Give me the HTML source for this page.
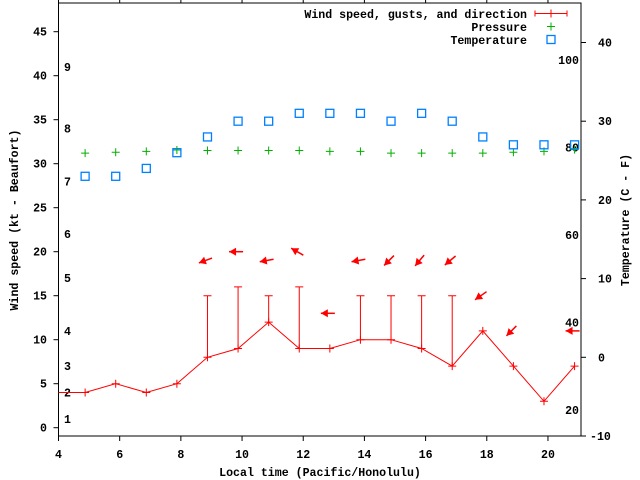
<!DOCTYPE html>
<html><head><meta charset="utf-8"><style>
html,body{margin:0;padding:0;background:#fff;}
svg{display:block;}
text{font-family:"Liberation Mono",monospace;font-weight:bold;font-size:11.6px;fill:#000;}
</style></head><body>
<svg id="chart" width="640" height="480" viewBox="0 0 640 480" xmlns="http://www.w3.org/2000/svg">
<defs><clipPath id="pc"><rect x="58.5" y="3" width="522.5" height="433"/></clipPath></defs>
<g id="axes"></g>
<g id="plot" clip-path="url(#pc)"></g>
<g id="legend"></g>
</svg>
<script>
const hours = [3.87,4.87,5.87,6.87,7.87,8.87,9.87,10.87,11.87,12.87,13.87,14.87,15.87,16.87,17.87,18.87,19.87,20.87];
const windKt = [4,4,5,4,5,8,9,12,9,9,10,10,9,7,11,7,3,7];
const gustKt = [null,null,null,null,null,15,16,15,16,null,15,15,15,15,null,null,null,null];
const windDir = [null,null,null,null,null,70,90,80,120,90,80,45,40,50,55,45,null,90];
const pressure = [null,31.2,31.3,31.4,31.55,31.5,31.5,31.5,31.5,31.4,31.4,31.2,31.2,31.2,31.2,31.3,31.4,31.6];
const tempC = [null,23,23,24,26,28,30,30,31,31,31,30,31,30,28,27,27,27];
const xTicks = [4,6,8,10,12,14,16,18,20];
const yTicks = [0,5,10,15,20,25,30,35,40,45];
const y2Ticks = [-10,0,10,20,30,40];
const beaufort = [1,2,3,4,5,6,7,8,9];
const beaufortKt = [1,4,7,11,17,22,28,34,41];
const fahrenheit = [20,40,60,80,100];

const L=58.5,R=581,T=3,B=436;
const X=v=>L+(v-4)*(R-L)/(21.08-4);
const Y=v=>427.7-v*8.8;
const Y2=v=>357.3-v*7.87;
const NS='http://www.w3.org/2000/svg';
function mk(tag,attrs,parent,txt){const e=document.createElementNS(NS,tag);for(const k in attrs)e.setAttribute(k,attrs[k]);if(txt!==undefined)e.textContent=txt;parent.appendChild(e);return e;}
const ax=document.getElementById('axes'),pl=document.getElementById('plot'),lg=document.getElementById('legend');

let e=mk('rect',{x:L,y:T,width:R-L,height:B-T,fill:'none',stroke:'#000','stroke-width':1},ax);


xTicks.forEach(t=>{
  const x=X(t);
  mk('line',{x1:x,y1:B,x2:x,y2:B+5,stroke:'#000'},ax);
  mk('line',{x1:x,y1:T,x2:x,y2:T-5,stroke:'#000'},ax);
  e=mk('text',{x:x,y:B+22,'text-anchor':'middle'},ax,String(t));
  
  
});
yTicks.forEach(t=>{
  const y=Y(t);
  mk('line',{x1:L-5,y1:y,x2:L,y2:y,stroke:'#000'},ax);
  e=mk('text',{x:47,y:y+4,'text-anchor':'end'},ax,String(t));
  
  
});
y2Ticks.forEach(t=>{
  const y=Y2(t);
  mk('line',{x1:R,y1:y,x2:R+5,y2:y,stroke:'#000'},ax);
  e=mk('text',{x:t<0?590:598,y:y+4,'text-anchor':'start'},ax,String(t));
  
  
});
beaufort.forEach((b,i)=>{
  e=mk('text',{x:64,y:Y(beaufortKt[i])+4},ax,String(b));
  
  
});
fahrenheit.forEach(f=>{
  e=mk('text',{x:579,y:Y2((f-32)*5/9)+4,'text-anchor':'end'},ax,String(f));
  
  
});
e=mk('text',{x:320,y:476,'text-anchor':'middle'},ax,'Local time (Pacific/Honolulu)');


e=mk('text',{x:0,y:0,'text-anchor':'middle',transform:'translate(18,220) rotate(-90)'},ax,'Wind speed (kt - Beaufort)');


e=mk('text',{x:0,y:0,'text-anchor':'middle',transform:'translate(629,220) rotate(-90)'},ax,'Temperature (C - F)');



const red='#ff0000';
e=mk('polyline',{points:hours.map((h,i)=>X(h)+','+Y(windKt[i])).join(' '),fill:'none',stroke:red,'stroke-width':1},pl);


hours.forEach((h,i)=>{
  const x=X(h),y=Y(windKt[i]);
  mk('path',{d:`M${x-4},${y}H${x+4}M${x},${y-4}V${y+4}`,stroke:red},pl);
  if(gustKt[i]!=null){
    const g=Y(gustKt[i]);
    e=mk('path',{d:`M${x},${y}V${g}M${x-4},${g}H${x+4}`,stroke:red,fill:'none'},pl);
    
    
  }
  if(windDir[i]!=null){
    const top=Math.max(windKt[i],gustKt[i]||0)+4;
    const cy=Y(top),r=windDir[i]*Math.PI/180;
    const dx=-Math.sin(r),dy=Math.cos(r),len=14;
    const hx=x+dx*len/2-2,hy=cy+dy*len/2,tx=x-dx*len/2-2,ty=cy-dy*len/2;
    const px=-dy,py=dx;
    const bx=hx-dx*7,by=hy-dy*7;
    e=mk('g',{},pl);
    
    
    mk('line',{x1:tx,y1:ty,x2:hx,y2:hy,stroke:red,'stroke-width':1.5},e);
    mk('polygon',{points:`${hx},${hy} ${bx+px*4},${by+py*4} ${bx-px*4},${by-py*4}`,fill:red},e);
  }
});
hours.forEach((h,i)=>{
  if(pressure[i]==null)return;
  const x=X(h),y=Y(pressure[i]);
  e=mk('path',{d:`M${x-4},${y}H${x+4}M${x},${y-4}V${y+4}`,stroke:'#00b000','stroke-width':1},pl);
  
  
});
hours.forEach((h,i)=>{
  if(tempC[i]==null)return;
  const x=X(h),y=Y2(tempC[i]);
  e=mk('rect',{x:x-4,y:y-4,width:8,height:8,fill:'none',stroke:'#0080ff','stroke-width':1.3},pl);
  
  
});
const lab=['Wind speed, gusts, and direction','Pressure','Temperature'];
lab.forEach((s,i)=>{
  e=mk('text',{x:527,y:18+i*13,'text-anchor':'end'},lg,s);
  
  
});
mk('path',{d:'M535,13.5H567M535,10.5V16.5M567,10.5V16.5M551,9.5V17.5',stroke:red,fill:'none'},lg);
mk('path',{d:'M547,26.5H555M551,22.5V30.5',stroke:'#00b000'},lg);
mk('rect',{x:547,y:35.5,width:8,height:8,fill:'none',stroke:'#0080ff','stroke-width':1.3},lg);
</script>
</body></html>
